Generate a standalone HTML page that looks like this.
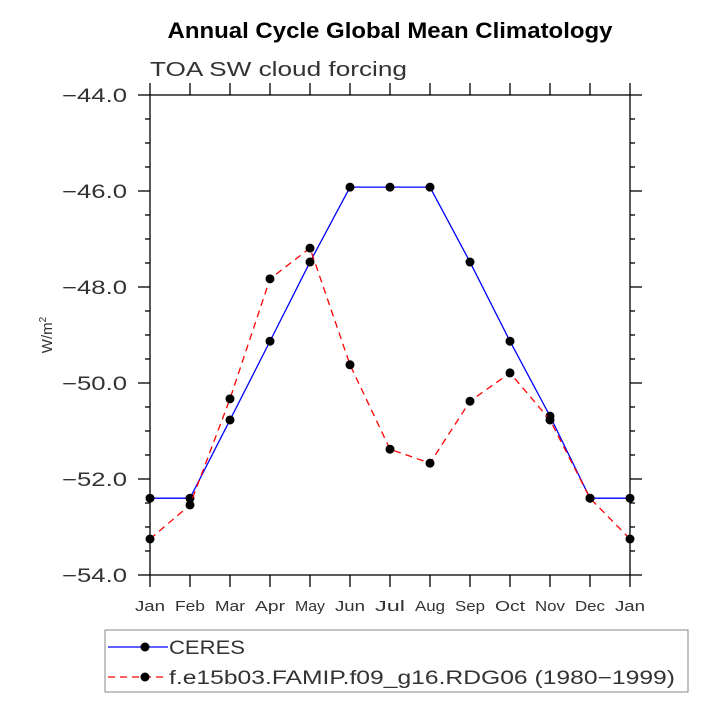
<!DOCTYPE html>
<html><head><meta charset="utf-8"><style>
body{margin:0;background:#fff;width:713px;height:713px;overflow:hidden}
text{font-family:"Liberation Sans",sans-serif}
</style></head><body>
<svg id="c" width="713" height="713" viewBox="0 0 713 713" xmlns="http://www.w3.org/2000/svg">
<text x="390" y="38" text-anchor="middle" font-size="22" font-weight="bold" textLength="445" lengthAdjust="spacingAndGlyphs">Annual Cycle Global Mean Climatology</text>
<text x="150" y="76" font-size="20" fill="#333" textLength="257" lengthAdjust="spacingAndGlyphs">TOA SW cloud forcing</text>
<text transform="translate(52,335) rotate(-90)" text-anchor="middle" font-size="15" fill="#333">W/m<tspan dy="-6" font-size="10">2</tspan></text>
<g id="axes"></g>
<g id="series"></g>
<g>
<rect x="105" y="630" width="583" height="62" fill="none" stroke="#888" stroke-width="1"/>
<line x1="108" y1="647" x2="168" y2="647" stroke="#0000ff" stroke-width="1.3"/>
<circle cx="145" cy="647" r="4.5" fill="#000"/>
<text x="169" y="654" font-size="19" fill="#333" textLength="76" lengthAdjust="spacingAndGlyphs">CERES</text>
<line x1="108" y1="677" x2="168" y2="677" stroke="#ff0000" stroke-width="1.3" stroke-dasharray="7,5"/>
<circle cx="145" cy="677" r="4.5" fill="#000"/>
<text x="169" y="684" font-size="19" fill="#333" textLength="506" lengthAdjust="spacingAndGlyphs">f.e15b03.FAMIP.f09_g16.RDG06 (1980−1999)</text>
</g>
</svg>
<script>
const months=["Jan","Feb","Mar","Apr","May","Jun","Jul","Aug","Sep","Oct","Nov","Dec","Jan"];
const ceres=[-52.40,-52.40,-50.77,-49.13,-47.48,-45.92,-45.92,-45.92,-47.48,-49.13,-50.69,-52.40,-52.40];
const model=[-53.25,-52.54,-50.33,-47.83,-47.19,-49.62,-51.38,-51.67,-50.38,-49.79,-50.77,-52.40,-53.25];
const yTicks=[-44,-46,-48,-50,-52,-54];
const NS="http://www.w3.org/2000/svg";
const X0=150,X1=630,Y0=95,Y1=575,YMIN=-54,YMAX=-44;
const xs=i=>X0+(X1-X0)*i/(months.length-1);
const ys=v=>Y0+(YMAX-v)/(YMAX-YMIN)*(Y1-Y0);
function mk(t,a,p){const e=document.createElementNS(NS,t);for(const k in a)e.setAttribute(k,a[k]);p.appendChild(e);return e;}
const ax=document.getElementById('axes');
const fr=mk('rect',{x:X0,y:Y0,width:X1-X0,height:Y1-Y0,fill:'none',stroke:'#000','stroke-width':1.3},ax);


months.forEach((m,i)=>{const x=xs(i);
mk('line',{x1:x,y1:Y1,x2:x,y2:Y1+12,stroke:'#000','stroke-width':1.3},ax);
mk('line',{x1:x,y1:Y0,x2:x,y2:Y0-12,stroke:'#000','stroke-width':1.3},ax);
const t=mk('text',{x:x,y:611,'text-anchor':'middle','font-size':15,fill:'#333',textLength:30,lengthAdjust:'spacingAndGlyphs'},ax);t.textContent=m;

});
for(let v=YMIN;v<=YMAX+1e-9;v+=0.5){const y=ys(v);const maj=Math.abs(v/2-Math.round(v/2))<1e-6;const L=maj?12:5;
mk('line',{x1:X0-L,y1:y,x2:X0,y2:y,stroke:'#000','stroke-width':1.3},ax);
mk('line',{x1:X1,y1:y,x2:X1+L,y2:y,stroke:'#000','stroke-width':1.3},ax);}
yTicks.forEach(v=>{const t=mk('text',{x:62,y:ys(v)+7,'font-size':19,fill:'#333',textLength:65,lengthAdjust:'spacingAndGlyphs'},ax);t.textContent='−'+Math.abs(v).toFixed(1);

});
const sg=document.getElementById('series');
function series(d,col,dash,name){const pts=d.map((v,i)=>xs(i)+','+ys(v)).join(' ');
const pl=mk('polyline',{points:pts,fill:'none',stroke:col,'stroke-width':1.3,'stroke-dasharray':dash},sg);


d.forEach((v,i)=>{const c=mk('circle',{cx:xs(i),cy:ys(v),r:4.5,fill:'#000'},sg);

});}
series(ceres,'#0000ff','none','ceres');
series(model,'#ff0000','7,5','model');
</script>
</body></html>
